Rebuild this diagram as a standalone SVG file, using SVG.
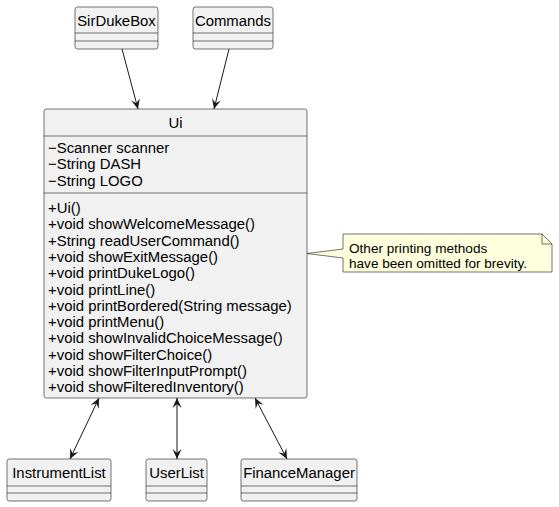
<svg xmlns="http://www.w3.org/2000/svg" width="559" height="507" viewBox="0 0 559 507">
<style>
.cls{fill:#F1F1F1;stroke:#181818;stroke-width:0.6}
.sep{stroke:#181818;stroke-width:0.6}
.t{font-family:"Liberation Sans",Arial,sans-serif;font-size:14.9px;fill:#000}
.c{text-anchor:middle}
.n{font-family:"Liberation Sans",Arial,sans-serif;font-size:13.6px;fill:#000}
.e{stroke:#181818;stroke-width:1;fill:none}
</style>
<defs>
<marker id="ah" viewBox="-11 -5 12 10" refX="0" refY="0" markerWidth="12" markerHeight="10" markerUnits="userSpaceOnUse" orient="auto-start-reverse">
<path d="M0,0 L-10,-4.5 L-6,0 L-10,4.5 Z" fill="#181818"/>
</marker>
</defs>
<rect width="559" height="507" fill="#FFFFFF"/>
<g id="connectors">
<line class="e" x1="122" y1="49" x2="138" y2="109" marker-end="url(#ah)"/>
<line class="e" x1="229" y1="49" x2="214" y2="109" marker-end="url(#ah)"/>
<line class="e" x1="99" y1="398" x2="70" y2="459" marker-start="url(#ah)" marker-end="url(#ah)"/>
<line class="e" x1="177" y1="398" x2="177" y2="459" marker-start="url(#ah)" marker-end="url(#ah)"/>
<line class="e" x1="255" y1="398" x2="287" y2="459" marker-start="url(#ah)" marker-end="url(#ah)"/>
</g>
<g id="SirDukeBox">
<rect class="cls" x="75" y="7" width="83" height="42" rx="2.5"/>
<line class="sep" x1="75" y1="33" x2="158" y2="33"/>
<line class="sep" x1="75" y1="41" x2="158" y2="41"/>
<text class="t c" x="116.5" y="26">SirDukeBox</text>
</g>
<g id="Commands">
<rect class="cls" x="193" y="7" width="80" height="42" rx="2.5"/>
<line class="sep" x1="193" y1="33" x2="273" y2="33"/>
<line class="sep" x1="193" y1="41" x2="273" y2="41"/>
<text class="t c" x="233" y="26">Commands</text>
</g>
<g id="Ui">
<rect class="cls" x="44" y="109" width="263" height="289" rx="2.5"/>
<line class="sep" x1="44" y1="136" x2="307" y2="136"/>
<line class="sep" x1="44" y1="193" x2="307" y2="193"/>
<text class="t c" x="175.5" y="128">Ui</text>
<text class="t" x="48" y="153">−Scanner scanner</text>
<text class="t" x="48" y="169.3">−String DASH</text>
<text class="t" x="48" y="185.6">−String LOGO</text>
<text class="t" x="48" y="213">+Ui()</text>
<text class="t" x="48" y="229.3">+void showWelcomeMessage()</text>
<text class="t" x="48" y="245.6">+String readUserCommand()</text>
<text class="t" x="48" y="261.9">+void showExitMessage()</text>
<text class="t" x="48" y="278.2">+void printDukeLogo()</text>
<text class="t" x="48" y="294.5">+void printLine()</text>
<text class="t" x="48" y="310.8">+void printBordered(String message)</text>
<text class="t" x="48" y="327.1">+void printMenu()</text>
<text class="t" x="48" y="343.4">+void showInvalidChoiceMessage()</text>
<text class="t" x="48" y="359.7">+void showFilterChoice()</text>
<text class="t" x="48" y="376">+void showFilterInputPrompt()</text>
<text class="t" x="48" y="392.3">+void showFilteredInventory()</text>
</g>
<g id="note">
<path d="M343,234 L542,234 L552,244 L552,272 L343,272 L343,258 L307,253.5 L343,249 Z" fill="#FEFFDD" stroke="#181818" stroke-width="0.6"/>
<path d="M542,234 L542,244 L552,244" fill="none" stroke="#181818" stroke-width="0.6"/>
<text class="n" x="349" y="252.5">Other printing methods</text>
<text class="n" x="349" y="267.5">have been omitted for brevity.</text>
</g>
<g id="InstrumentList">
<rect class="cls" x="7" y="459" width="104" height="42" rx="2.5"/>
<line class="sep" x1="7" y1="486" x2="111" y2="486"/>
<line class="sep" x1="7" y1="493" x2="111" y2="493"/>
<text class="t c" x="59" y="478">InstrumentList</text>
</g>
<g id="UserList">
<rect class="cls" x="146" y="459" width="61" height="42" rx="2.5"/>
<line class="sep" x1="146" y1="486" x2="207" y2="486"/>
<line class="sep" x1="146" y1="493" x2="207" y2="493"/>
<text class="t c" x="176.5" y="478">UserList</text>
</g>
<g id="FinanceManager">
<rect class="cls" x="241" y="459" width="116" height="42" rx="2.5"/>
<line class="sep" x1="241" y1="486" x2="357" y2="486"/>
<line class="sep" x1="241" y1="493" x2="357" y2="493"/>
<text class="t c" x="299" y="478">FinanceManager</text>
</g>
</svg>
